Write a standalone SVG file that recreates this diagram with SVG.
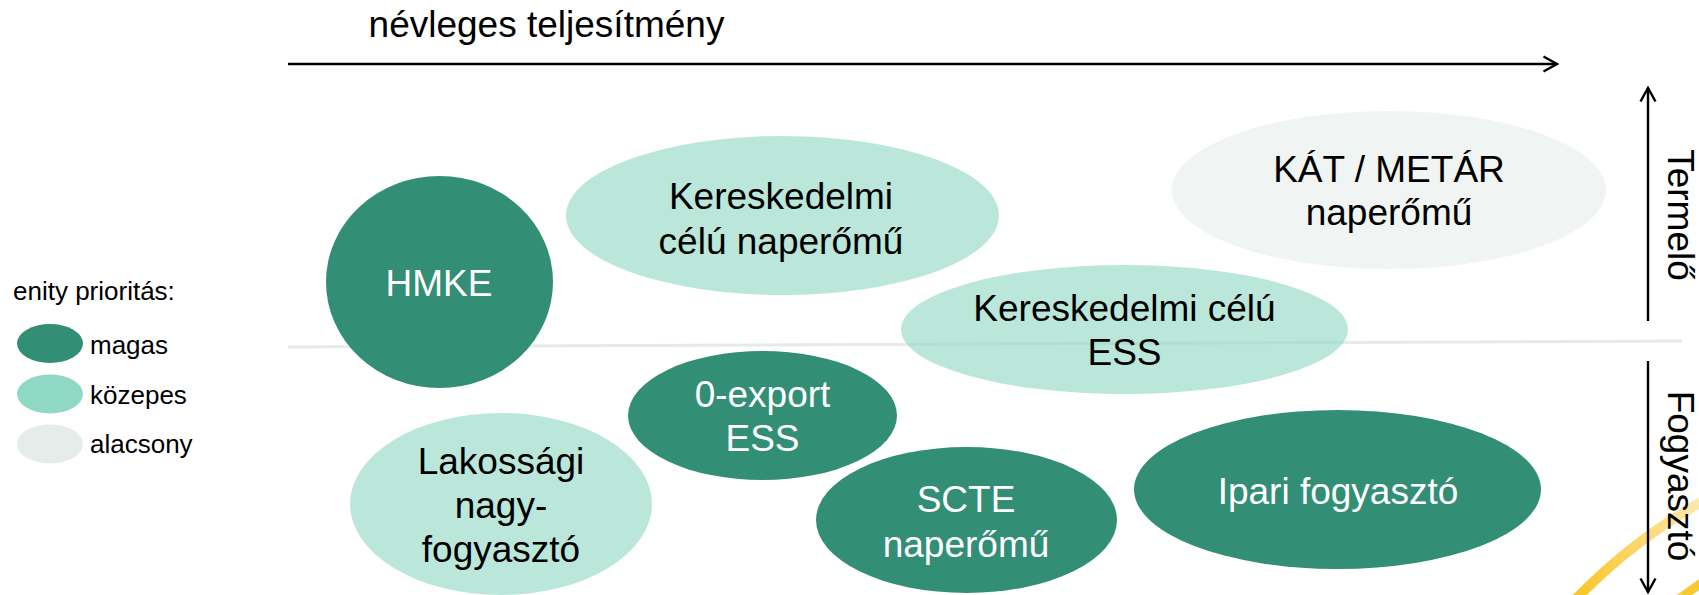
<svg xmlns="http://www.w3.org/2000/svg" width="1699" height="595" viewBox="0 0 1699 595">
<style>
text{font-family:"Liberation Sans",Arial,sans-serif;}
.t37{font-size:37px;text-anchor:middle;}
.lg{font-size:26px;fill:#000;}
.dark{fill:#328e75;}
.mid{fill:#8fd9c4;fill-opacity:0.62;}
.low{fill:#e6ecea;fill-opacity:0.6;}
.wt{fill:#ffffff;}
.bk{fill:#000000;}
.axis{stroke:#000;stroke-width:2.4;fill:none;}
</style>
<defs>
<marker id="chev" markerUnits="userSpaceOnUse" markerWidth="20" markerHeight="20" refX="14" refY="8" orient="auto" overflow="visible">
<path d="M0.5,0.5 L14,8 L0.5,15.5" fill="none" stroke="#000" stroke-width="2.4" stroke-linejoin="miter"/>
</marker>
<linearGradient id="gold" gradientUnits="userSpaceOnUse" x1="1580" y1="595" x2="1705" y2="495">
<stop offset="0" stop-color="#f9c629"/>
<stop offset="1" stop-color="#fdebb3"/>
</linearGradient>
</defs>
<rect width="1699" height="595" fill="#ffffff"/>

<!-- decorative arcs -->
<path d="M1575,600 A552,552 0 0 1 1712,496" fill="none" stroke="url(#gold)" stroke-width="10"/>
<path d="M1678,600 A483,483 0 0 1 1712,576" fill="none" stroke="#f9c934" stroke-width="9"/>

<!-- title -->
<text class="t37 bk" x="546.5" y="37">névleges teljesítmény</text>

<!-- separator -->
<line x1="288" y1="347" x2="1682" y2="341" stroke="#e4ebe8" stroke-width="3"/>

<g id="connectors">
<line class="axis" x1="288" y1="64" x2="1557" y2="64" marker-end="url(#chev)"/>
<line class="axis" x1="1648" y1="321" x2="1648" y2="88" marker-end="url(#chev)"/>
<line class="axis" x1="1648" y1="361" x2="1648" y2="592" marker-end="url(#chev)"/>
</g>

<text class="t37 bk" transform="translate(1668,215) rotate(90)" x="0" y="0">Termelő</text>
<text class="t37 bk" transform="translate(1668,476) rotate(90)" x="0" y="0">Fogyasztó</text>

<g id="legend">
<text class="lg" x="13" y="300">enity prioritás:</text>
<ellipse class="dark" cx="50" cy="343.5" rx="33" ry="19.5"/>
<text class="lg" x="90" y="354">magas</text>
<ellipse cx="50" cy="394" rx="33" ry="19.5" fill="#8fd9c4"/>
<text class="lg" x="90" y="404">közepes</text>
<ellipse cx="50" cy="444" rx="33" ry="19.5" fill="#e6ecea"/>
<text class="lg" x="90" y="453">alacsony</text>
</g>

<g id="node-hmke">
<ellipse class="dark" cx="439.5" cy="282" rx="113.5" ry="106"/>
<text class="t37 wt" x="439" y="296">HMKE</text>
</g>

<g id="node-ker-naper">
<ellipse class="mid" cx="782.5" cy="215.5" rx="216.5" ry="79.5"/>
<text class="t37 bk" x="781" y="209">Kereskedelmi</text>
<text class="t37 bk" x="781" y="254">célú naperőmű</text>
</g>

<g id="node-kat">
<ellipse class="low" cx="1389" cy="190" rx="217" ry="79"/>
<text class="t37 bk" x="1389" y="182">KÁT / METÁR</text>
<text class="t37 bk" x="1389" y="225">naperőmű</text>
</g>

<g id="node-ker-ess">
<ellipse class="mid" cx="1124.5" cy="329.5" rx="223.5" ry="64.5"/>
<text class="t37 bk" x="1124.5" y="321">Kereskedelmi célú</text>
<text class="t37 bk" x="1124.5" y="365">ESS</text>
</g>

<g id="node-0export">
<ellipse class="dark" cx="762.5" cy="415.5" rx="134.5" ry="64.5"/>
<text class="t37 wt" x="762.5" y="407">0-export</text>
<text class="t37 wt" x="762.5" y="451">ESS</text>
</g>

<g id="node-lakossagi">
<ellipse class="mid" cx="501" cy="504" rx="151" ry="91"/>
<text class="t37 bk" x="501" y="474">Lakossági</text>
<text class="t37 bk" x="501" y="518">nagy-</text>
<text class="t37 bk" x="501" y="562">fogyasztó</text>
</g>

<g id="node-scte">
<ellipse class="dark" cx="966.5" cy="520" rx="150.5" ry="73"/>
<text class="t37 wt" x="966" y="512">SCTE</text>
<text class="t37 wt" x="966" y="557">naperőmű</text>
</g>

<g id="node-ipari">
<ellipse class="dark" cx="1337.5" cy="489.5" rx="203.5" ry="79.5"/>
<text class="t37 wt" x="1338" y="504">Ipari fogyasztó</text>
</g>
</svg>
